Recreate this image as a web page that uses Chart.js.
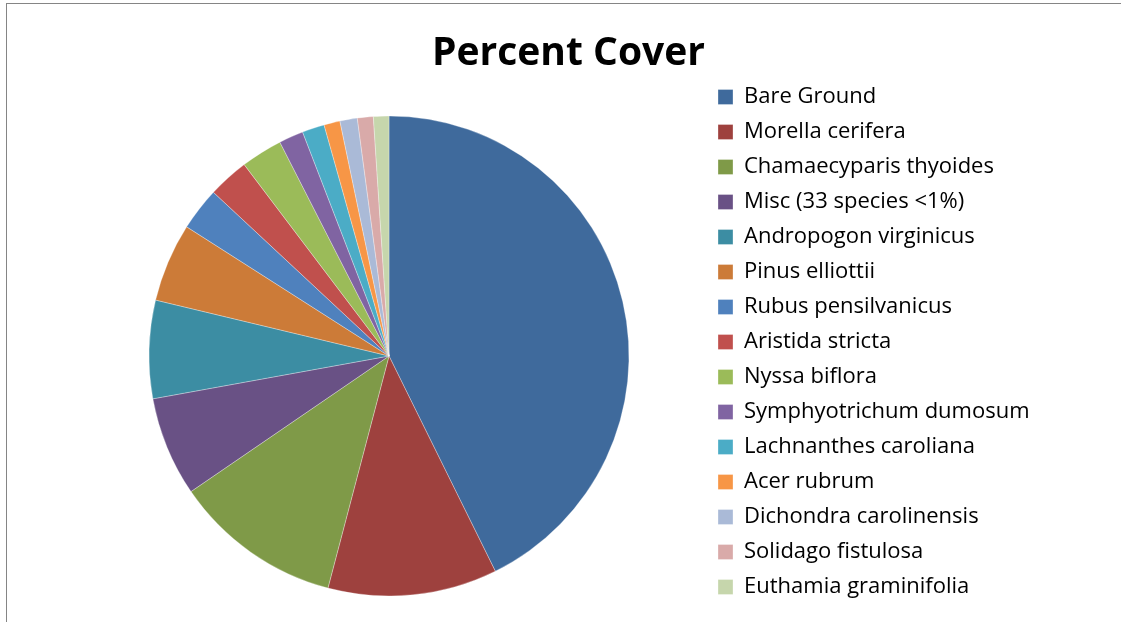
<!DOCTYPE html>
<html>
<head>
<meta charset="utf-8">
<script src="https://cdn.jsdelivr.net/npm/chart.js@4"></script>
<style>
    html, body { margin: 0; padding: 0; background: #fff; }
    #wrap { position: relative; width: 1121px; height: 622px; overflow: hidden; }
    #frame { position: absolute; left: 6px; top: 3px; right: -2px; bottom: -2px; border-top: 1px solid #858585; border-left: 1px solid #858585; }
    canvas { position: absolute; left: 0; top: 0; }
</style>
</head>
<body>
<div id="wrap">
    <div id="frame"></div>
    <canvas id="coverChart" width="1121" height="622"></canvas>
</div>
<script>
// data (percent of cover)
const species = [
    'Bare Ground', 'Morella cerifera', 'Chamaecyparis thyoides', 'Misc (33 species <1%)',
    'Andropogon virginicus', 'Pinus elliottii', 'Rubus pensilvanicus', 'Aristida stricta',
    'Nyssa biflora', 'Symphyotrichum dumosum', 'Lachnanthes caroliana', 'Acer rubrum',
    'Dichondra carolinensis', 'Solidago fistulosa', 'Euthamia graminifolia'
];
const cover = [42.7, 11.4, 11.35, 6.7, 6.6, 5.3, 2.9, 2.75, 2.8, 1.65, 1.5, 1.08, 1.17, 1.07, 1.04];
const sliceColors = [
    '#3f6a9c', '#9e413e', '#7f9a48', '#695185', '#3c8da3', '#cc7b38', '#4f81bd', '#c0504d',
    '#9bbb59', '#8064a2', '#4bacc6', '#f79646', '#aabad7', '#d9aaa9', '#c6d6ac'
];

Chart.defaults.font.family = "'Open Sans', sans-serif";
Chart.defaults.color = '#000';

// fixed legend width so the pie lands where it should
const legendWidth = {
    id: 'legendWidth',
    afterInit(chart) {
        const fit = chart.legend.fit;
        chart.legend.fit = function () {
            fit.call(this);
            this.width = 416;
        };
    }
};

new Chart(document.getElementById('coverChart'), {
    type: 'pie',
    data: {
        labels: species,
        datasets: [{
            data: cover,
            backgroundColor: sliceColors,
            borderColor: 'rgba(255,255,255,0.6)',
            borderWidth: 0.5,
            radius: 240
        }]
    },
    options: {
        responsive: false,
        animation: false,
        devicePixelRatio: 1,
        layout: { padding: { left: 73, right: 0, top: 0, bottom: 10 } },
        plugins: {
            title: {
                display: true,
                text: 'Percent Cover',
                fullSize: false,
                align: 'end',
                font: { size: 39, weight: 'bold' },
                padding: { top: 30, bottom: 23.2 }
            },
            legend: {
                position: 'right',
                align: 'start',
                title: { display: true, text: ' ', font: { size: 10 }, padding: { top: 61, bottom: 0 } },
                labels: {
                    boxWidth: 15,
                    boxHeight: 15,
                    padding: 13,
                    font: { size: 22 }
                }
            },
            tooltip: { enabled: false }
        }
    },
    plugins: [legendWidth]
});
</script>
</body>
</html>
